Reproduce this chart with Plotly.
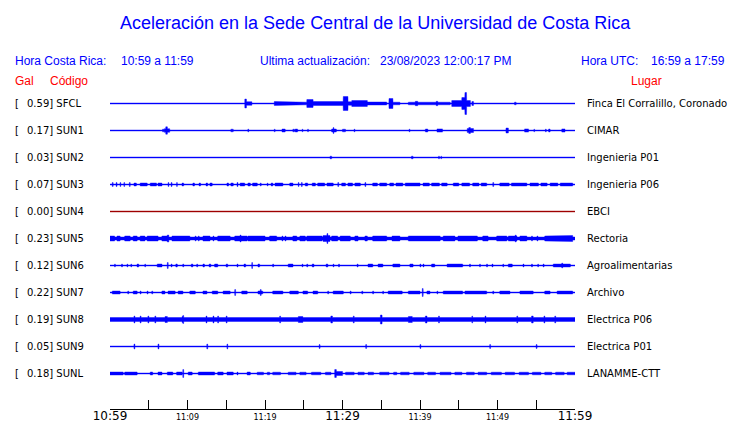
import numpy as np
import plotly.graph_objects as go

# ---------------- data ----------------
codes = ["SFCL", "SUN1", "SUN2", "SUN3", "SUN4", "SUN5", "SUN6", "SUN7", "SUN8", "SUN9", "SUNL"]
peak_gal = [0.59, 0.17, 0.03, 0.07, 0.00, 0.23, 0.12, 0.22, 0.19, 0.05, 0.18]
places = ["Finca El Corralillo, Coronado", "CIMAR", "Ingenieria P01", "Ingenieria P06", "EBCI",
          "Rectoria", "Agroalimentarias", "Archivo", "Electrica P06", "Electrica P01", "LANAMME-CTT"]

# minutes after 10:59 (local time)
tick_minutes = [0, 5, 10, 15, 20, 25, 30, 35, 40, 45, 50, 55, 60]
tick_labels = ["10:59", "", "11:09", "", "11:19", "", "11:29", "", "11:39", "", "11:49", "", "11:59"]
major_labels = ["10:59", "11:29", "11:59"]

# background noise half-amplitude of every trace (display units)
base_amp = [0.5, 0.5, 0.5, 0.5, 0.5, 1.5, 0.5, 0.5, 2.0, 0.5, 0.5]

# bursts: (start minute, end minute, half-amplitude)
ev_SFCL = [(17.4, 17.6, 4.5), (17.6, 18.3, 1.8), (21.2, 24.1, 2), (24.1, 25.4, 1.3), (25.4, 26.2, 4),
           (26.2, 30.1, 2), (30.1, 30.7, 7), (30.7, 31.2, 1.8), (31.2, 33.2, 3), (33.2, 35.7, 1.5),
           (36.0, 36.5, 5), (36.5, 37.4, 1.3), (38.5, 43.9, 1.3), (39.4, 39.7, 2.2), (42.1, 42.3, 2.2),
           (44.1, 46.5, 3), (45.4, 45.8, 6), (45.8, 46.0, 11), (46.7, 46.9, 2), (52.2, 52.4, 1.3)]
ev_SUN1 = [(6.8, 6.9, 1.5), (7.0, 7.7, 1.8), (7.2, 7.4, 3.7), (10.3, 10.4, 1), (15.6, 15.9, 1.3),
           (17.8, 17.9, 1.5), (21.2, 21.3, 1.3), (22.2, 22.6, 1.5), (23.6, 23.8, 1.3), (23.9, 24.2, 1.5),
           (24.8, 24.9, 1.3), (25.5, 25.6, 1.3), (28.6, 29.2, 1.5), (28.8, 28.9, 3), (30.0, 30.4, 1.3),
           (31.5, 31.6, 1.3), (38.6, 38.7, 1.3), (39.2, 39.3, 0.9), (40.7, 41.0, 1.5), (42.2, 42.9, 1.6),
           (44.4, 44.5, 1.2), (44.9, 45.0, 1.2), (46.1, 46.9, 2), (46.3, 46.5, 3), (47.5, 47.6, 1.2),
           (51.1, 51.4, 2.5), (53.5, 54.0, 1.6), (54.7, 54.8, 1.3), (56.2, 56.3, 1.5), (56.6, 56.8, 1.5),
           (58.3, 58.7, 1.6)]
ev_SUN2 = [(28.4, 28.6, 1.3), (38.9, 39.1, 1.3), (42.4, 42.5, 1.3), (42.7, 42.8, 1.3), (57.4, 57.5, 1)]
ev_SUN3 = [(0.3, 0.4, 2), (0.8, 0.9, 2), (1.3, 1.4, 2), (1.8, 1.9, 2), (2.5, 2.6, 2), (3.1, 3.4, 1.5),
           (3.9, 4.8, 1.5), (5.2, 6.0, 1.5), (6.2, 6.7, 1.5), (7.5, 7.6, 2), (7.9, 8.0, 2), (8.6, 8.7, 2),
           (9.3, 9.5, 1.5), (10.7, 10.9, 1.5), (11.5, 11.7, 1.5), (12.4, 12.6, 1.5), (12.9, 13.2, 1.5),
           (15.1, 15.3, 1.5), (15.6, 15.9, 1.5), (16.4, 16.5, 2), (16.8, 17.4, 1.5), (17.8, 18.1, 1.5),
           (18.4, 19.0, 1.5), (19.4, 19.5, 1.5), (20.3, 20.4, 1.5), (20.8, 21.0, 1.5), (21.3, 22.3, 1.5),
           (23.2, 23.6, 1.5), (24.3, 24.4, 2), (24.7, 24.8, 2), (25.2, 25.5, 1.5), (26.1, 26.5, 1.5),
           (26.8, 27.7, 1.5), (28.0, 28.8, 1.5), (29.4, 29.5, 2), (29.9, 30.4, 1.5), (30.7, 31.3, 1.5),
           (31.6, 32.3, 1.5), (32.9, 33.0, 2), (33.9, 34.5, 1.5), (34.8, 35.7, 1.5), (36.1, 36.6, 1.5),
           (36.9, 37.8, 1.5), (38.1, 40.0, 1.5), (40.4, 41.2, 1.5), (41.5, 42.5, 1.5), (42.8, 43.5, 1.5),
           (44.3, 45.0, 1.5), (45.4, 46.4, 1.5), (46.8, 47.6, 1.5), (47.9, 48.6, 1.5), (49.4, 49.5, 2),
           (50.3, 51.5, 1.5), (51.8, 53.8, 1.5), (54.2, 55.3, 1.5), (55.6, 56.4, 1.5), (56.8, 57.8, 1.5),
           (58.1, 59.7, 1.5)]
ev_SUN4 = []
ev_SUN5 = [(0.0, 0.6, 2.5), (0.9, 1.3, 2.5), (1.9, 2.6, 2.5), (3.0, 3.5, 2.5), (3.9, 4.5, 2.5),
           (4.8, 6.2, 2.5), (6.7, 7.4, 2.5), (7.4, 7.6, 3.5), (8.0, 10.3, 2.5), (11.0, 11.1, 2.5),
           (11.4, 11.5, 2.5), (12.0, 12.9, 2.5), (13.3, 13.4, 2.5), (13.9, 15.5, 2.5), (16.1, 17.7, 2.5),
           (16.8, 16.9, 3.5), (17.8, 20.0, 2.5), (20.6, 21.5, 2.5), (22.2, 22.3, 2.5), (22.6, 22.7, 2.5),
           (23.6, 24.1, 2.5), (24.5, 25.2, 2.5), (25.4, 27.4, 2.5), (27.5, 28.4, 3), (28.0, 28.1, 5),
           (28.6, 29.4, 2.5), (29.7, 31.0, 2.5), (31.6, 32.0, 2.5), (32.9, 33.2, 2.5), (33.9, 35.7, 2.5),
           (36.4, 37.4, 2.5), (38.5, 42.6, 2.5), (43.0, 44.5, 2.5), (44.9, 47.4, 2.5), (48.1, 48.8, 2.5),
           (49.9, 51.2, 2.5), (51.4, 52.5, 2.5), (52.3, 52.4, 3.5), (52.9, 53.8, 2.5), (54.4, 54.5, 2.5),
           (55.1, 55.2, 2.5), (56.1, 59.4, 2.5), (59.4, 59.7, 3)]
ev_SUN6 = [(0.6, 0.7, 1.5), (1.5, 1.6, 1.5), (2.2, 2.3, 1.5), (2.7, 2.8, 1.5), (3.5, 3.7, 1.5),
           (4.5, 4.6, 1.5), (6.1, 6.7, 1.5), (7.4, 7.5, 3), (7.9, 8.0, 1.5), (8.5, 8.7, 1.5),
           (9.4, 9.5, 1.5), (10.5, 10.7, 1.5), (11.2, 11.3, 1.5), (12.0, 12.2, 1.5), (12.8, 13.0, 1.5),
           (13.5, 13.9, 1.5), (15.0, 15.2, 1.5), (16.4, 16.5, 1.5), (17.3, 17.5, 1.5), (18.3, 18.4, 3),
           (19.1, 19.3, 1.5), (21.0, 21.1, 1.5), (23.0, 23.6, 1.5), (24.8, 24.9, 1.5), (25.4, 25.5, 1.5),
           (26.1, 26.3, 1.5), (27.9, 28.1, 1.5), (28.8, 28.9, 1.5), (29.5, 29.6, 1.5), (31.9, 32.0, 1.5),
           (33.3, 33.9, 1.5), (34.6, 35.2, 1.5), (36.5, 37.4, 1.5), (38.7, 39.1, 1.5), (40.0, 40.1, 1.5),
           (40.4, 40.5, 1.5), (41.5, 41.9, 1.5), (43.5, 45.5, 1.5), (46.4, 46.5, 1.5), (47.7, 47.8, 1.5),
           (48.6, 48.7, 1.5), (49.3, 49.4, 1.5), (50.7, 50.8, 1.5), (51.4, 51.9, 1.5), (53.3, 53.4, 1.5),
           (54.4, 54.5, 1.5), (55.2, 55.3, 1.5), (55.9, 56.0, 1.5), (57.2, 59.4, 1.5), (58.3, 58.4, 2.5)]
ev_SUN7 = [(0.3, 1.3, 1.5), (2.3, 2.4, 1.5), (3.0, 3.5, 1.5), (3.9, 4.0, 1.5), (4.8, 4.9, 1.5),
           (5.4, 5.5, 1.5), (6.7, 7.1, 1.5), (7.5, 8.4, 1.5), (8.8, 9.4, 1.5), (10.3, 11.0, 1.5),
           (12.0, 12.5, 1.5), (13.2, 13.9, 1.5), (14.6, 15.5, 1.5), (16.1, 16.2, 3), (17.0, 17.7, 1.5),
           (19.1, 19.7, 1.5), (19.4, 19.5, 3), (21.0, 22.3, 1.5), (23.2, 24.3, 1.5), (24.9, 25.5, 1.5),
           (26.2, 26.8, 1.5), (28.1, 28.2, 1.5), (28.8, 30.1, 1.5), (31.0, 31.1, 1.5), (32.5, 32.6, 1.5),
           (33.9, 34.0, 1.5), (35.2, 35.3, 1.5), (35.9, 37.7, 1.5), (38.5, 40.0, 1.5), (40.3, 40.4, 4),
           (40.9, 41.3, 1.5), (42.2, 42.3, 1.5), (43.0, 45.5, 1.5), (45.8, 48.6, 1.5), (49.4, 49.5, 1.5),
           (50.3, 51.6, 1.5), (52.9, 54.6, 1.5), (56.1, 56.8, 1.5), (57.7, 59.7, 1.5)]
ev_SUN8 = [(3.1, 3.2, 3.5), (3.9, 4.0, 3.5), (4.9, 5.0, 3.5), (5.8, 5.9, 3.5), (7.1, 7.4, 3),
           (7.2, 7.3, 3.5), (9.3, 9.5, 3), (9.4, 9.5, 4), (12.4, 12.5, 3.5), (13.3, 13.4, 3.5),
           (13.9, 14.0, 3.5), (15.0, 15.1, 3.5), (21.9, 22.0, 3.5), (24.3, 24.9, 3), (28.5, 28.7, 3.5),
           (31.4, 31.5, 3.5), (34.9, 35.1, 4.5), (38.5, 39.0, 3), (40.7, 40.9, 3.5), (42.4, 42.5, 3.5),
           (46.7, 46.8, 3.5), (48.4, 48.5, 3.5), (52.5, 52.6, 3.5), (54.4, 54.6, 3.5), (56.0, 56.1, 3.5),
           (57.4, 57.5, 3.5)]
ev_SUN9 = [(3.1, 3.2, 2.5), (6.2, 6.3, 2.5), (12.5, 12.6, 2.5), (15.1, 15.2, 2.5), (27.0, 27.1, 2),
           (33.0, 33.1, 2), (40.0, 40.1, 2), (49.0, 49.1, 2), (55.0, 55.1, 2)]
ev_SUNL = [(0.0, 1.7, 1.5), (1.9, 3.5, 1.5), (5.2, 5.5, 1.5), (6.2, 6.7, 1.5), (7.4, 8.1, 1.5),
           (8.6, 9.3, 1.5), (9.4, 9.5, 4), (10.1, 10.6, 1.5), (11.4, 13.5, 1.5), (13.9, 14.6, 1.5),
           (15.1, 15.9, 1.5), (16.4, 16.5, 1.5), (17.7, 18.1, 1.5), (19.0, 19.8, 1.3), (20.3, 20.6, 1.3),
           (21.0, 22.0, 1.3), (23.0, 24.0, 1.3), (24.5, 25.3, 1.3), (26.0, 27.2, 1.3), (27.8, 28.5, 1.3),
           (29.0, 29.2, 4), (29.2, 30.0, 2), (30.4, 31.5, 1.3), (32.0, 32.8, 1.3), (33.3, 34.0, 1.3),
           (34.8, 36.0, 1.3), (36.6, 37.0, 1.3), (37.5, 38.6, 1.3), (39.2, 40.5, 1.3), (41.0, 42.0, 1.3),
           (42.6, 44.0, 1.3), (44.5, 45.4, 1.3), (46.0, 47.0, 1.3), (47.5, 48.6, 1.3), (49.2, 50.5, 1.3),
           (51.0, 52.2, 1.3), (52.8, 54.0, 1.3), (54.5, 55.6, 1.3), (56.1, 57.0, 1.3), (57.5, 58.6, 1.3),
           (59.0, 60.0, 1.3)]
events = [ev_SFCL, ev_SUN1, ev_SUN2, ev_SUN3, ev_SUN4, ev_SUN5, ev_SUN6, ev_SUN7, ev_SUN8, ev_SUN9, ev_SUNL]

# ---------------- styling ----------------
BLUE = "#0000ff"
RED = "#ff0000"
trace_colors = [BLUE] * 11
trace_colors[4] = "#a00000"
ROW = 27.0
W, H = 740, 423
L, R, T, B = 110, 165, 88, 14
PW, PH = W - L - R, H - T - B
TOP = -15.5

def xp(px):
    return (px - L) / PW

def yp(py):
    return (H - B - py) / PH

fig = go.Figure()
t = np.linspace(0, 60, 3001)
for i, code in enumerate(codes):
    y0 = i * ROW
    env = np.full_like(t, base_amp[i])
    for s, e, a in events[i]:
        m = (t >= s) & (t <= e)
        env[m] = np.maximum(env[m], a)
    xs = np.concatenate([t, t[::-1]])
    ys = np.concatenate([y0 - env, (y0 + env)[::-1]])
    fig.add_trace(go.Scatter(x=xs, y=ys, mode="lines", fill="toself", fillcolor=trace_colors[i],
                             line=dict(color=trace_colors[i], width=0.4), hoverinfo="skip",
                             showlegend=False))

ticktext = []
for lab in tick_labels:
    if lab in major_labels:
        ticktext.append('<span style="font-size:12px">%s</span>' % lab)
    else:
        ticktext.append(lab)

fig.update_layout(
    width=W, height=H, margin=dict(l=L, r=R, t=T, b=B, autoexpand=False),
    paper_bgcolor="white", plot_bgcolor="white", showlegend=False,
    xaxis=dict(range=[0, 60], showgrid=False, zeroline=False, showline=True, linecolor="black",
               linewidth=1, ticks="inside", ticklen=9, tickwidth=1, tickcolor="black",
               tickmode="array", tickvals=tick_minutes, ticktext=ticktext, automargin=False,
               tickfont=dict(family="DejaVu Sans", size=8, color="black"), fixedrange=True),
    yaxis=dict(range=[TOP + PH, TOP], visible=False, fixedrange=True, automargin=False),
)

anns = []
def add(text, px, py, size, color, family, anchor="left", yref="paper", yval=None):
    anns.append(dict(text=text, x=xp(px), xref="paper",
                     y=(yp(py) if yval is None else yval), yref=yref,
                     xanchor=anchor, yanchor="middle", showarrow=False,
                     font=dict(size=size, color=color, family=family)))

HF = "Liberation Sans"
add("Aceleración en la Sede Central de la Universidad de Costa Rica", 118, 23, 18, BLUE, HF)
add("Hora Costa Rica:", 13, 61, 12, BLUE, HF)
add("10:59 a 11:59", 119, 61, 12, BLUE, HF)
add("Ultima actualización:", 258, 61, 12, BLUE, HF)
add("23/08/2023 12:00:17 PM", 378, 61, 12, BLUE, HF)
add("Hora UTC:", 579, 61, 12, BLUE, HF)
add("16:59 a 17:59", 649, 61, 12, BLUE, HF)
add("Gal", 13, 81, 12, RED, HF)
add("Código", 48, 81, 12, RED, HF)
add("Lugar", 629, 81, 12, RED, HF)

LF = "DejaVu Sans"
for i, code in enumerate(codes):
    y0 = i * ROW
    add("[", 13, 0, 10, "black", LF, yref="y", yval=y0)
    add("%.2f] %s" % (peak_gal[i], code), 25, 0, 10, "black", LF, yref="y", yval=y0)
    add(places[i], 585, 0, 10, "black", LF, yref="y", yval=y0)

fig.update_layout(annotations=anns)
fig.write_html("out.html", config={"responsive": False, "displayModeBar": False},
               post_script="document.body.style.margin='0';document.body.style.overflow='hidden';")
